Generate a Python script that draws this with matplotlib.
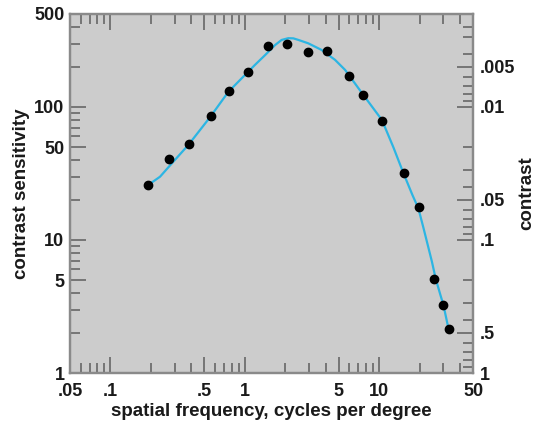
import matplotlib
matplotlib.use("Agg")
import matplotlib.pyplot as plt
from matplotlib.ticker import FixedLocator, FixedFormatter, NullFormatter

# ---- data ----
point_freq = [0.19, 0.273, 0.383, 0.561, 0.759, 1.06, 1.50, 2.05, 2.98, 4.10,
              5.94, 7.6, 10.5, 15.2, 19.9, 25.7, 29.8, 33.2]
point_sens = [25.9, 40.6, 53, 85.6, 132.6, 184, 289, 298, 260, 264,
              170, 124, 78.5, 31.9, 17.8, 5.09, 3.23, 2.14]

curve_freq = [0.191, 0.234, 0.294, 0.380, 0.551, 0.755, 1.06, 1.19, 1.42, 1.68,
              1.88, 2.11, 2.30, 2.51, 2.97, 3.74, 4.70, 5.58, 7.64, 10.5,
              12.8, 15.1, 17.7, 19.6, 21.4, 23.0, 24.7, 26.4, 28.6, 30.1, 32.8]
curve_sens = [25.9, 29.9, 38.8, 51.8, 83.7, 130, 184, 207, 246, 292,
              319, 329, 328, 319, 301, 268, 226, 190, 123, 79.8,
              49.5, 32.2, 21.8, 17.3, 12.3, 9.2, 6.9, 5.1, 3.86, 3.25, 2.17]

x_major = [0.05, 0.1, 0.5, 1, 5, 10, 50]
x_major_labels = [".05", ".1", ".5", "1", "5", "10", "50"]
x_minor = [0.06, 0.07, 0.08, 0.09, 0.2, 0.3, 0.4, 0.6, 0.7, 0.8, 0.9,
           2, 3, 4, 6, 7, 8, 9, 20, 30, 40]

y_major = [1, 5, 10, 50, 100, 500]
y_major_labels = ["1", "5", "10", "50", "100", "500"]
y_minor = [2, 3, 4, 6, 7, 8, 9, 20, 30, 40, 60, 70, 80, 90, 200, 300, 400]

contrast_major = [0.005, 0.01, 0.05, 0.1, 0.5, 1]
contrast_major_labels = [".005", ".01", ".05", ".1", ".5", "1"]
contrast_minor = [0.0025, 0.003, 0.004, 0.006, 0.007, 0.008, 0.009,
                  0.02, 0.03, 0.04, 0.06, 0.07, 0.08, 0.09,
                  0.2, 0.3, 0.4, 0.6, 0.7, 0.8, 0.9]

# ---- style ----
plt.rcParams['font.family'] = ['Liberation Sans', 'DejaVu Sans']
plt.rcParams['font.weight'] = 'bold'
FS_TICK = 13
FS_LAB = 13.5
txt_col = '#1a1a1a'
spine_col = '#8a8a8a'
tick_col = '#6e6e6e'

fig = plt.figure(figsize=(5.35, 4.23), dpi=100)
ax = fig.add_axes([70/535, 50/423, 403/535, 359/423])
ax.set_facecolor('#cccccc')
ax.set_xscale('log')
ax.set_yscale('log')
ax.set_xlim(0.05, 50)
ax.set_ylim(1, 500)

ax.plot(curve_freq, curve_sens, color='#2cb5e3', lw=1.6, zorder=2,
        solid_joinstyle='round')
ax.plot(point_freq, point_sens, 'o', color='black', ms=6, zorder=3)

ax.xaxis.set_major_locator(FixedLocator(x_major))
ax.xaxis.set_major_formatter(FixedFormatter(x_major_labels))
ax.xaxis.set_minor_locator(FixedLocator(x_minor))
ax.xaxis.set_minor_formatter(NullFormatter())
ax.yaxis.set_major_locator(FixedLocator(y_major))
ax.yaxis.set_major_formatter(FixedFormatter(y_major_labels))
ax.yaxis.set_minor_locator(FixedLocator(y_minor))
ax.yaxis.set_minor_formatter(NullFormatter())

ax.tick_params(which='both', direction='in', color=tick_col, width=1.3,
               labelsize=FS_TICK, labelcolor=txt_col, top=True, right=False)
ax.tick_params(which='major', length=11.5)
ax.tick_params(which='minor', length=7)
ax.tick_params(axis='x', pad=7)
ax.tick_params(axis='y', pad=4)

for s in ax.spines.values():
    s.set_color(spine_col)
    s.set_linewidth(1.6)

ax.set_xlabel('spatial frequency, cycles per degree', fontsize=FS_LAB, fontweight='bold',
              color=txt_col, labelpad=2)
ax.set_ylabel('contrast sensitivity', fontsize=FS_LAB, fontweight='bold',
              color=txt_col, labelpad=3)

ax2 = ax.twinx()
ax2.set_yscale('log')
ax2.set_ylim(1, 500)
ax2.yaxis.set_major_locator(FixedLocator([1 / c for c in contrast_major]))
ax2.yaxis.set_major_formatter(FixedFormatter(contrast_major_labels))
ax2.yaxis.set_minor_locator(FixedLocator([1 / c for c in contrast_minor]))
ax2.yaxis.set_minor_formatter(NullFormatter())
ax2.tick_params(which='both', direction='in', color=tick_col, width=1.3,
                labelsize=FS_TICK, labelcolor=txt_col, pad=5)
ax2.tick_params(which='major', length=11.5)
ax2.tick_params(which='minor', length=7)
for s in ax2.spines.values():
    s.set_color(spine_col)
    s.set_linewidth(1.6)
ax2.set_ylabel('contrast', fontsize=FS_LAB, fontweight='bold', color=txt_col, labelpad=2)

fig.savefig('out.png', dpi=100, facecolor='white')
